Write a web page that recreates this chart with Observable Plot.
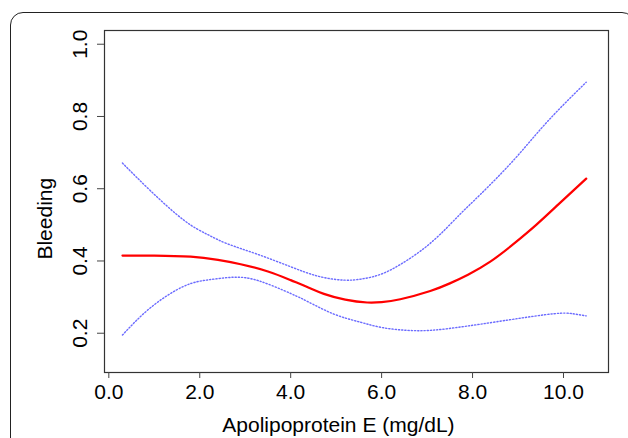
<!DOCTYPE html>
<html>
<head>
<meta charset="utf-8">
<script src="https://cdn.jsdelivr.net/npm/d3@7"></script>
<script src="https://cdn.jsdelivr.net/npm/@observablehq/plot@0.6"></script>
<style>
  html, body { margin: 0; padding: 0; background: #fff; overflow: hidden; }
  #wrap { position: relative; width: 628px; height: 438px; }
  #frame { position: absolute; left: 10px; top: 12px; width: 625px; height: 520px;
           border: 1.8px solid #222; border-radius: 13px; box-sizing: border-box; pointer-events: none; }
  #chart { position: absolute; left: 0; top: 0; }
</style>
</head>
<body>
<div id="wrap"><div id="chart"></div><div id="frame"></div></div>
<script>
const fitX   = [0.3, 1.0, 1.8, 2.4, 2.9, 3.5, 4.0, 4.4, 4.73, 5.2, 5.68, 6.0, 6.41, 7.07, 7.5, 7.9, 8.39, 8.91, 9.4, 9.9, 10.5];
const fitY   = [0.415, 0.415, 0.412, 0.403, 0.391, 0.371, 0.347, 0.326, 0.309, 0.293, 0.285, 0.286, 0.294, 0.317, 0.338, 0.362, 0.398, 0.448, 0.500, 0.558, 0.628];
const upperX = [0.3, 0.92, 1.65, 2.16, 2.6, 3.26, 4.0, 4.6, 5.17, 5.6, 6.0, 6.42, 6.86, 7.29, 7.73, 8.17, 8.91, 9.64, 10.5];
const upperY = [0.671, 0.594, 0.513, 0.474, 0.448, 0.419, 0.384, 0.358, 0.347, 0.351, 0.364, 0.391, 0.428, 0.474, 0.530, 0.584, 0.680, 0.785, 0.895];
const lowerX = [0.3, 0.92, 1.65, 2.2, 2.75, 3.3, 4.0, 4.4, 4.95, 5.49, 6.0, 6.56, 7.07, 7.6, 8.17, 8.91, 9.79, 10.2, 10.5];
const lowerY = [0.195, 0.271, 0.330, 0.348, 0.355, 0.345, 0.310, 0.286, 0.253, 0.232, 0.216, 0.208, 0.208, 0.215, 0.225, 0.239, 0.254, 0.254, 0.248];
const xTicks = [0, 2, 4, 6, 8, 10];
const yTicks = [0.2, 0.4, 0.6, 0.8, 1.0];
const xTitle = "Apolipoprotein E (mg/dL)";
const yTitle = "Bleeding";

const rows = (xs, ys) => xs.map((x, i) => ({x, y: ys[i]}));
const fit = rows(fitX, fitY), upper = rows(upperX, upperY), lower = rows(lowerX, lowerY);

const FS = 21;
const chart = Plot.plot({
  width: 628, height: 438,
  marginLeft: 104, marginRight: 20, marginTop: 30, marginBottom: 66,
  style: {fontFamily: "'Liberation Sans', Arial, sans-serif", fontSize: FS + "px", background: "transparent", color: "#000"},
  x: {domain: [-0.095, 10.99]},
  y: {domain: [0.0913, 1.038]},
  marks: [
    Plot.frame({stroke: "#333", strokeWidth: 1.2}),
    Plot.axisX({ticks: xTicks, tickSize: 6, tickFormat: () => "", label: null, stroke: "#444"}),
    Plot.axisY({ticks: yTicks, tickSize: 7, tickFormat: () => "", label: null, stroke: "#444"}),
    Plot.text(xTicks, {x: d => d, frameAnchor: "bottom", dy: 20, text: d => d.toFixed(1), fontSize: FS, lineAnchor: "middle", textAnchor: "middle", fill: "#000"}),
    Plot.text(yTicks, {y: d => d, frameAnchor: "left", dx: -24, rotate: -90, text: d => d.toFixed(1), fontSize: FS, lineAnchor: "middle", textAnchor: "middle", fill: "#000"}),
    Plot.text([xTitle], {x: 5.05, frameAnchor: "bottom", dy: 53, text: d => d, fontSize: FS, lineAnchor: "middle", textAnchor: "middle", fill: "#000"}),
    Plot.text([yTitle], {y: 0.517, frameAnchor: "left", dx: -59, rotate: -90, text: d => d, fontSize: FS, lineAnchor: "middle", textAnchor: "middle", fill: "#000"}),
    Plot.line(upper, {x: "x", y: "y", stroke: "#3a3aff", strokeOpacity: 0.75, strokeWidth: 1.4, strokeDasharray: "1.2,2", curve: "natural"}),
    Plot.line(lower, {x: "x", y: "y", stroke: "#3a3aff", strokeOpacity: 0.75, strokeWidth: 1.4, strokeDasharray: "1.2,2", curve: "natural"}),
    Plot.line(fit, {x: "x", y: "y", stroke: "#ff0000", strokeWidth: 2.2, curve: "natural"})
  ]
});
document.getElementById("chart").appendChild(chart);
</script>
</body>
</html>
